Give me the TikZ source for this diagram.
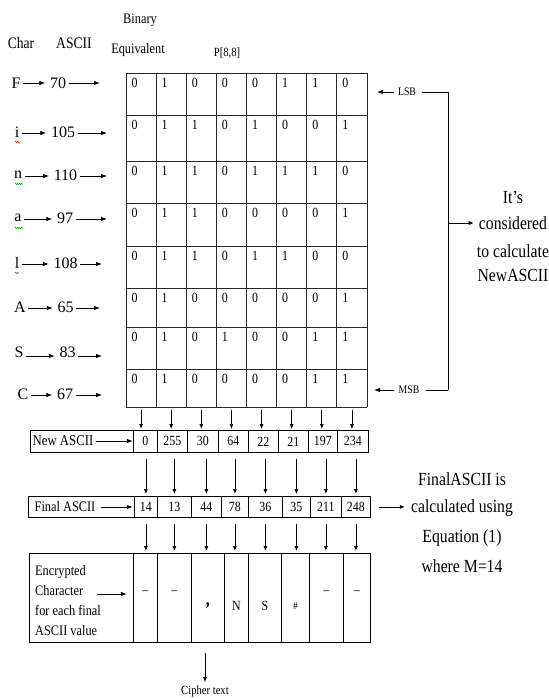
\documentclass[tikz,border=0pt]{standalone}
\usepackage{fontspec}
\setmainfont{Liberation Serif}[FakeStretch=0.85]
\newfontfamily\wideserif{Liberation Serif}
\usetikzlibrary{arrows.meta,decorations.pathmorphing}
\newcommand\fsz[1]{\fontsize{#1}{#1}\selectfont}
\begin{document}
\begin{tikzpicture}[x=1pt, y={(0pt,-1pt)},
  every node/.style={inner sep=0pt},
  arr/.style={-{Latex[length=5pt,width=4pt]}, line width=0.7pt},
  longarr/.style={-{Latex[length=6pt,width=4.5pt]}, line width=0.8pt},
  gridline/.style={line width=0.8pt, draw=black!85},
  cell/.style={draw, line width=0.8pt, anchor=north west, inner sep=0pt, font=\fsz{14}},
  digit/.style={font=\fsz{14}},
  rowlab/.style={font=\wideserif\fsz{16}, inner sep=1.5pt},
  head/.style={font=\fsz{14.5}},
  side/.style={font=\fsz{18.5}},
  small/.style={font=\fsz{11.5}},
  squig/.style={line width=0.5pt, decorate, decoration={snake, segment length=2pt, amplitude=0.6pt}}]
\useasboundingbox (0,0) rectangle (549,699);

% headers
\node[font=\fsz{16}] (hchar) at (21,43) {Char};
\node[font=\fsz{16}] (hascii) at (74,43) {ASCII};
\node[head] (hbin) at (140,20) {Binary};
\node[head] (heq) at (138,50) {Equivalent};
\node[font=\fsz{12.5}] (hp) at (227,53) {P[8,8]};

% grid
\foreach \y in {73,115,161,203,246,288,327,369,407}
  \draw[gridline] (126,\y) -- (367,\y);
\foreach \x in {126,156.125,186.25,216.375,246.5,276.625,306.75,336.875,367}
  \draw[gridline] (\x,73) -- (\x,407);
\foreach [count=\r] \top/\bits in {73/{0,1,0,0,0,1,1,0},115/{0,1,1,0,1,0,0,1},161/{0,1,1,0,1,1,1,0},203/{0,1,1,0,0,0,0,1},246/{0,1,1,0,1,1,0,0},288/{0,1,0,0,0,0,0,1},327/{0,1,0,1,0,0,1,1},369/{0,1,0,0,0,0,1,1}}{
  \foreach [count=\c] \b in \bits {
    \node[digit] (d\r-\c) at ({126+30.125*(\c-1)+8.5},{\top+10}) {\b};
  }
}

% row labels
\foreach [count=\r] \y/\ch/\cx/\num/\nx/\ex/\ay in {83/F/16/70/58/100/83, 132/i/17/105/63/107/133, 175/n/18/110/65.5/107/176, 218/a/18/97/65/107/219, 263/l/17/108/65.5/102/264, 307/A/20/65/65.5/100/308, 352/S/19/83/67.5/102/356, 394/C/23/67/65/102/395}{
  \node[rowlab] (ch\r) at (\cx,\y) {\ch};
  \node[rowlab] (nm\r) at (\nx,\y) {\num};
  \coordinate (ce\r) at (ch\r.east |- 0,\ay);
  \coordinate (nw\r) at (nm\r.west |- 0,\ay);
  \coordinate (ne\r) at (nm\r.east |- 0,\ay);
  \coordinate (re\r) at (\ex,\ay);
  \draw[longarr, shorten <=1pt, shorten >=3pt] (ce\r) -- (nw\r);
  \draw[longarr, shorten <=1pt] (ne\r) -- (re\r);
}
% spell-check squiggles
\draw[squig, red!85!black] (15,142) -- (20,142);
\draw[squig, green!55!black] (15,184) -- (23,184);
\draw[squig, green!55!black] (15,228) -- (23,228);
\draw[squig, green!55!black] (15,273) -- (19,273);

% LSB / MSB bracket
\node[small] (lsb) at (407,92) {LSB};
\node[small] (msb) at (409,390) {MSB};
\coordinate (lsbtip) at (377,92);
\coordinate (msbtip) at (374,390);
\coordinate (brT) at (448,92);
\coordinate (brB) at (448,390);
\coordinate (brM) at (448,223);
\draw[longarr, shorten <=4pt] (lsb.west) -- (lsbtip);
\draw[longarr, shorten <=4pt] (msb.west) -- (msbtip);
\draw[line width=0.7pt, shorten <=6pt] (lsb.east) -- (brT);
\draw[line width=0.7pt] (brT) -- (brB);
\draw[line width=0.7pt, shorten <=6pt] (msb.east) -- (brB);
\node[side] (its) at (513,197) {It’s};
\node[side] (cons) at (513,223) {considered};
\node[side] (tocalc) at (513,251) {to calculate};
\node[side] (newa) at (513,275) {NewASCII};
\draw[arr, shorten >=5pt] (brM) -- (cons.west);

% New ASCII row
\node[cell, minimum width=103pt, minimum height=22pt] (nlab) at (30,430) {};
\node[font=\fsz{15}] (ntxt) at (63,441) {New ASCII};
\draw[longarr, shorten <=3pt, shorten >=1pt] (ntxt.east) -- (ntxt.east -| nlab.east);
\foreach [count=\i] \a/\b/\v in {133/157/0,157/187/255,187/218/30,218/248/64,248/278/22,278/308/21,308/337/197,337/368/234}
  \node[cell, minimum width={\b pt-\a pt}, minimum height=22pt] (n\i) at (\a,430) {\v};
\foreach \i in {1,...,8}{
  \coordinate (gb\i) at ({126+30.125*(\i-0.5)},410);
  \draw[arr, shorten >=1pt] (gb\i) -- (gb\i |- n\i.north);
}

% Final ASCII row
\node[cell, minimum width=106pt, minimum height=21pt] (flab) at (28,496) {};
\node[font=\fsz{14.5}] (ftxt) at (65,507) {Final ASCII};
\draw[longarr, shorten <=5pt, shorten >=2pt] (ftxt.east) -- (ftxt.east -| flab.east);
\foreach [count=\i] \a/\b/\v in {134/157/14,157/191/13,191/221/44,221/248/78,248/282/36,282/310/35,310/341/211,341/370/248}
  \node[cell, minimum width={\b pt-\a pt}, minimum height=21pt] (f\i) at (\a,496) {\v};
\foreach \i in {1,...,8}{
  \path (f\i.north |- nlab.south) ++(0,6) coordinate (nb\i);
  \draw[arr, shorten >=2pt] (nb\i) -- (f\i.north);
}
\node[side] (fin1) at (462,479) {FinalASCII is};
\node[side] (fin2) at (462,508) {calculated using};
\node[side] (fin3) at (462,538) {Equation (1)};
\node[side] (fin4) at (462,566) {where M=14};
\draw[arr, shorten <=8pt, shorten >=6pt] (f8.east) -- (f8.east -| fin2.west);

% Encrypted row
\node[cell, minimum width=104pt, minimum height=89pt] (elab) at (29,553) {};
\node[font=\fontsize{14.5}{20}\selectfont, align=left, anchor=west] (etxt) at (35,601) {Encrypted\\Character\\for each final\\ASCII value};
\coordinate (earr) at (97,594);
\draw[longarr, shorten >=7pt] (earr) -- (earr -| elab.east);
\foreach [count=\i] \a/\b in {133/157,157/191,191/224,224/248,248/281,281/309,309/343,343/370}
  \node[cell, minimum width={\b pt-\a pt}, minimum height=89pt] (e\i) at (\a,553) {};
\foreach \i in {1,...,8}{
  \path (f\i.south) ++(0,6) coordinate (fb\i);
  \draw[arr, shorten >=2pt] (fb\i) -- (fb\i |- e\i.north);
}
\node[font=\fsz{14}] (c1) at (e1.center |- 0,593) {–};
\node[font=\fsz{14}] (c2) at (e2.center |- 0,593) {–};
\node[font=\bfseries\fsz{19}] (c3) at (e3.center |- 0,606) {,};
\node[font=\fsz{14}] (c4) at (e4.center |- 0,606) {N};
\node[font=\fsz{14}] (c5) at (e5.center |- 0,606) {S};
\node[font=\fsz{11}] (c6) at (e6.center |- 0,606) {\#};
\node[font=\fsz{14}] (c7) at (e7.center |- 0,593) {–};
\node[font=\fsz{14}] (c8) at (e8.center |- 0,593) {–};

% cipher text
\coordinate (ctop) at (205,653);
\node[font=\fsz{12.5}] (cipher) at (205,691) {Cipher text};
\draw[arr, shorten >=3pt] (ctop) -- (cipher.north);
\end{tikzpicture}
\end{document}
